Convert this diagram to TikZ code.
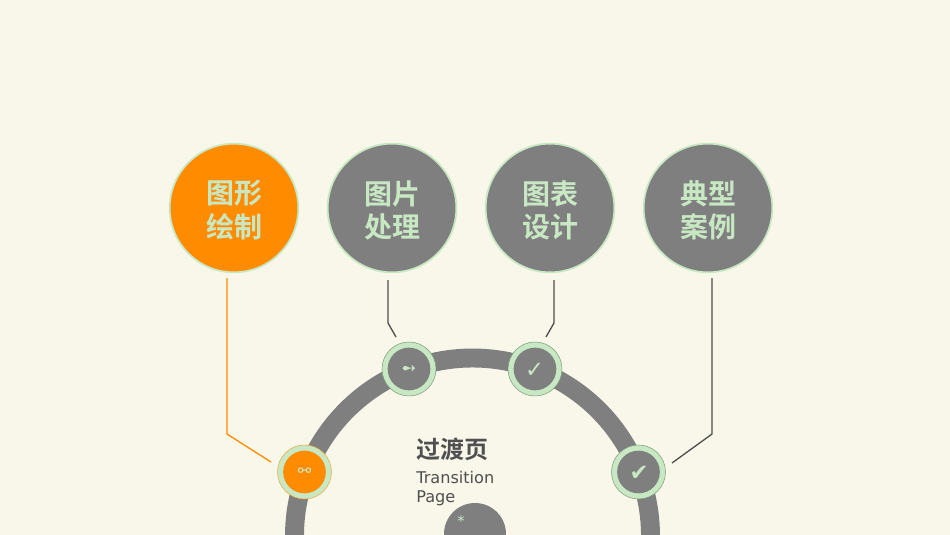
\documentclass[tikz,border=0pt]{standalone}
\usepackage{fontspec}
\setmainfont{DejaVu Sans}
\newfontfamily\cjkbold[Scale=1]{Noto Sans CJK SC Bold}
\newfontfamily\symfont{DejaVu Sans}
\definecolor{paper}{HTML}{F9F7EA}
\definecolor{greyfill}{HTML}{7F7F7F}
\definecolor{mint}{HTML}{C8E8C4}
\definecolor{amber}{HTML}{FF8C00}
\definecolor{inkdark}{HTML}{505050}
\definecolor{ringedge}{HTML}{7F9C7F}
\tikzset{
  x=0.75pt,y=-0.75pt,
  bigdisc/.style={circle,draw=mint,line width=1.3pt,minimum size=96.5pt,inner sep=0pt,fill=greyfill},
  hotdisc/.style={bigdisc,fill=amber},
  biglabel/.style={text=mint,align=center,inner sep=0pt,font=\cjkbold\fontsize{21}{25}\selectfont,yshift=-1.6pt},
  ringdisc/.style={circle,draw=ringedge,line width=0.4pt,fill=mint,minimum size=40.5pt,inner sep=0pt},
  hotring/.style={ringdisc,draw=amber!70!mint},
  corediscg/.style={circle,fill=greyfill,minimum size=32pt,inner sep=0pt,text=mint},
  corediscy/.style={circle,fill=amber,minimum size=32pt,inner sep=0pt,text=mint},
  linkdark/.style={draw=inkdark,line width=1pt},
  linkhot/.style={draw=amber,line width=1pt},
}
\begin{document}
\begin{tikzpicture}
\useasboundingbox (0,0) rectangle (950,535);
\fill[paper] (0,0) rectangle (950,535);
% ring
\begin{scope}
\clip (0,0) rectangle (950,534);
\draw[greyfill,line width=14.2pt] (472.5,536) circle[radius=178];
\fill[greyfill] (475,534) circle[radius=31];
\end{scope}
\node[text=mint,font=\symfont\fontsize{11}{11}\selectfont] (star) at (461,521) {*};
% big discs
\node[hotdisc,label={[biglabel]center:图形\\绘制}] (a) at (234,208) {};
\node[bigdisc,label={[biglabel]center:图片\\处理}] (b) at (392,208) {};
\node[bigdisc,label={[biglabel]center:图表\\设计}] (c) at (550,208) {};
\node[bigdisc,label={[biglabel]center:典型\\案例}] (d) at (708,208) {};
% ring discs
\node[hotring] (ra) at (304.5,472) {};
\node[ringdisc] (rb) at (409,369) {};
\node[ringdisc] (rc) at (535,369) {};
\node[ringdisc] (rd) at (638.5,472) {};
\node[corediscy] (ia) at (304.5,472) {};
\node[corediscg] (ib) at (409,369) {};
\node[corediscg] (ic) at (535,369) {};
\node[corediscg] (id) at (638.5,472) {};
\node[text=mint,inner sep=0pt,font=\symfont\fontsize{12}{12}\selectfont] (ga) at (304.5,472) {⚯};
\node[text=mint,inner sep=0pt,font=\symfont\fontsize{14}{14}\selectfont] (gb) at (409,370) {➻};
\node[text=mint,inner sep=0pt,font=\symfont\fontsize{17}{17}\selectfont] (gc) at (534.5,370) {✓};
\node[text=mint,inner sep=0pt,font=\symfont\fontsize{17}{17}\selectfont] (gd) at (639,473) {✔};
% connector points
\coordinate (a1) at (227,278);
\coordinate (a2) at (227,434);
\coordinate (a3) at (271,462);
\coordinate (b1) at (388,280);
\coordinate (b2) at (388,323);
\coordinate (b3) at (396,337);
\coordinate (c1) at (554,280);
\coordinate (c2) at (554,323);
\coordinate (c3) at (546,337);
\coordinate (d1) at (712,278);
\coordinate (d2) at (712,434);
\coordinate (d3) at (672,463);
\draw[linkhot] (a1) -- (a2) -- (a3);
\draw[linkdark] (b1) -- (b2) -- (b3);
\draw[linkdark] (c1) -- (c2) -- (c3);
\draw[linkdark] (d1) -- (d2) -- (d3);
% titles
\node[anchor=west,inner sep=0pt,text=inkdark,font=\cjkbold\fontsize{18}{18}\selectfont] (title) at (416,449.5) {过渡页};
\node[anchor=north west,inner sep=0pt,align=left,text=inkdark,font=\fontsize{12.1}{14.25}\selectfont] (sub) at (416,471) {Transition\\Page};
\end{tikzpicture}
\end{document}
